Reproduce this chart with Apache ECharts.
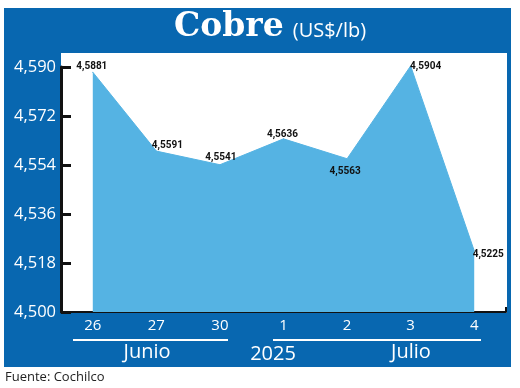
<!DOCTYPE html>
<html>
<head>
<meta charset="utf-8">
<script src="https://cdn.jsdelivr.net/npm/echarts@6/dist/echarts.min.js"></script>
<style>
  html, body { margin: 0; padding: 0; background: #ffffff; }
  #chart { width: 520px; height: 388px; }
</style>
</head>
<body>
<div id="chart"></div>
<script>
// ---- data ----
const days = ['26', '27', '30', '1', '2', '3', '4'];
const prices = [4.5881, 4.5591, 4.5541, 4.5636, 4.5563, 4.5904, 4.5225];
const yTicks = [4.500, 4.518, 4.536, 4.554, 4.572, 4.590];
const groupLabels = ['Junio', '2025', 'Julio'];
const titleText = 'Cobre';
const unitText = '(US$/lb)';
const sourceText = 'Fuente: Cochilco';

// ---- styles ----
const frameBlue = '#0867b0';
const areaBlue = '#55b3e3';
const sans = '"Open Sans", sans-serif';
const labelOffsets = [[-1, 0], [11, 0], [1, -2], [-1, 1], [-2, 18], [15, 6], [14, 9]];

function fmt(v, d) { return v.toFixed(d).replace('.', ','); }

const chart = echarts.init(document.getElementById('chart'), null, { renderer: 'canvas' });

const seriesData = prices.map((v, i) => ({
  value: v,
  label: { offset: labelOffsets[i] }
}));

chart.setOption({
  animation: false,
  backgroundColor: '#ffffff',
  title: {
    left: 169, top: 6,
    text: '{a|' + titleText + '} {b|' + unitText + '}',
    textStyle: {
      rich: {
        a: { fontFamily: '"DejaVu Serif", serif', fontWeight: 'bold', fontSize: 33, color: '#ffffff', verticalAlign: 'bottom' },
        b: { fontFamily: sans, fontWeight: 'normal', fontSize: 20, color: '#ffffff', verticalAlign: 'bottom', padding: [0, 0, 3, 4] }
      }
    }
  },
  grid: { left: 61, right: 14, top: 67, bottom: 76, containLabel: false },
  xAxis: {
    type: 'category',
    data: days,
    boundaryGap: true,
    axisLine: { show: true, lineStyle: { color: '#111', width: 2 } },
    axisTick: { show: true, inside: true, length: 5, lineStyle: { color: '#111', width: 2 } },
    axisLabel: { color: '#ffffff', fontFamily: sans, fontSize: 15, margin: 6 },
    splitLine: { show: false }
  },
  yAxis: {
    type: 'value',
    min: yTicks[0],
    max: yTicks[yTicks.length - 1],
    interval: yTicks[1] - yTicks[0],
    axisLine: { show: true, lineStyle: { color: '#111', width: 3 } },
    axisTick: { show: true, inside: true, length: 10, lineStyle: { color: '#111', width: 3 } },
    axisLabel: { color: '#ffffff', fontFamily: sans, fontSize: 16.5, margin: 5, formatter: v => fmt(v, 3) },
    splitLine: { show: false }
  },
  series: [{
    type: 'line',
    data: seriesData,
    clip: false,
    symbol: 'circle',
    symbolSize: 1,
    showSymbol: true,
    lineStyle: { color: areaBlue, width: 1 },
    itemStyle: { color: areaBlue },
    areaStyle: { color: areaBlue, opacity: 1 },
    label: {
      show: true,
      position: 'top',
      distance: 0,
      color: '#111',
      fontFamily: '"Roboto", "Open Sans", sans-serif',
      fontWeight: 'bold',
      fontSize: 10,
      formatter: p => fmt(p.value, 4)
    },
    z: 5
  }],
  graphic: [
    { type: 'rect', z: -20, shape: { x: 4, y: 8, width: 507, height: 359 }, style: { fill: frameBlue } },
    { type: 'rect', z: -10, shape: { x: 61, y: 53, width: 446, height: 260 }, style: { fill: '#ffffff' } },
    { type: 'line', z: 10, shape: { x1: 73, y1: 340, x2: 228, y2: 340 }, style: { stroke: '#ffffff', lineWidth: 2 } },
    { type: 'line', z: 10, shape: { x1: 273, y1: 340, x2: 481, y2: 340 }, style: { stroke: '#ffffff', lineWidth: 2 } },
    { type: 'text', z: 10, x: 147, y: 352, style: { text: groupLabels[0], fill: '#fff', font: '20px "Open Sans", sans-serif', textAlign: 'center', textVerticalAlign: 'middle' } },
    { type: 'text', z: 10, x: 273, y: 354, style: { text: groupLabels[1], fill: '#fff', font: '20px "Open Sans", sans-serif', textAlign: 'center', textVerticalAlign: 'middle' } },
    { type: 'text', z: 10, x: 411, y: 352, style: { text: groupLabels[2], fill: '#fff', font: '20px "Open Sans", sans-serif', textAlign: 'center', textVerticalAlign: 'middle' } },
    { type: 'text', z: 10, x: 5, y: 377, style: { text: sourceText, fill: '#222', font: '13px "Open Sans", sans-serif', textAlign: 'left', textVerticalAlign: 'middle' } }
  ]
});
</script>
</body>
</html>
